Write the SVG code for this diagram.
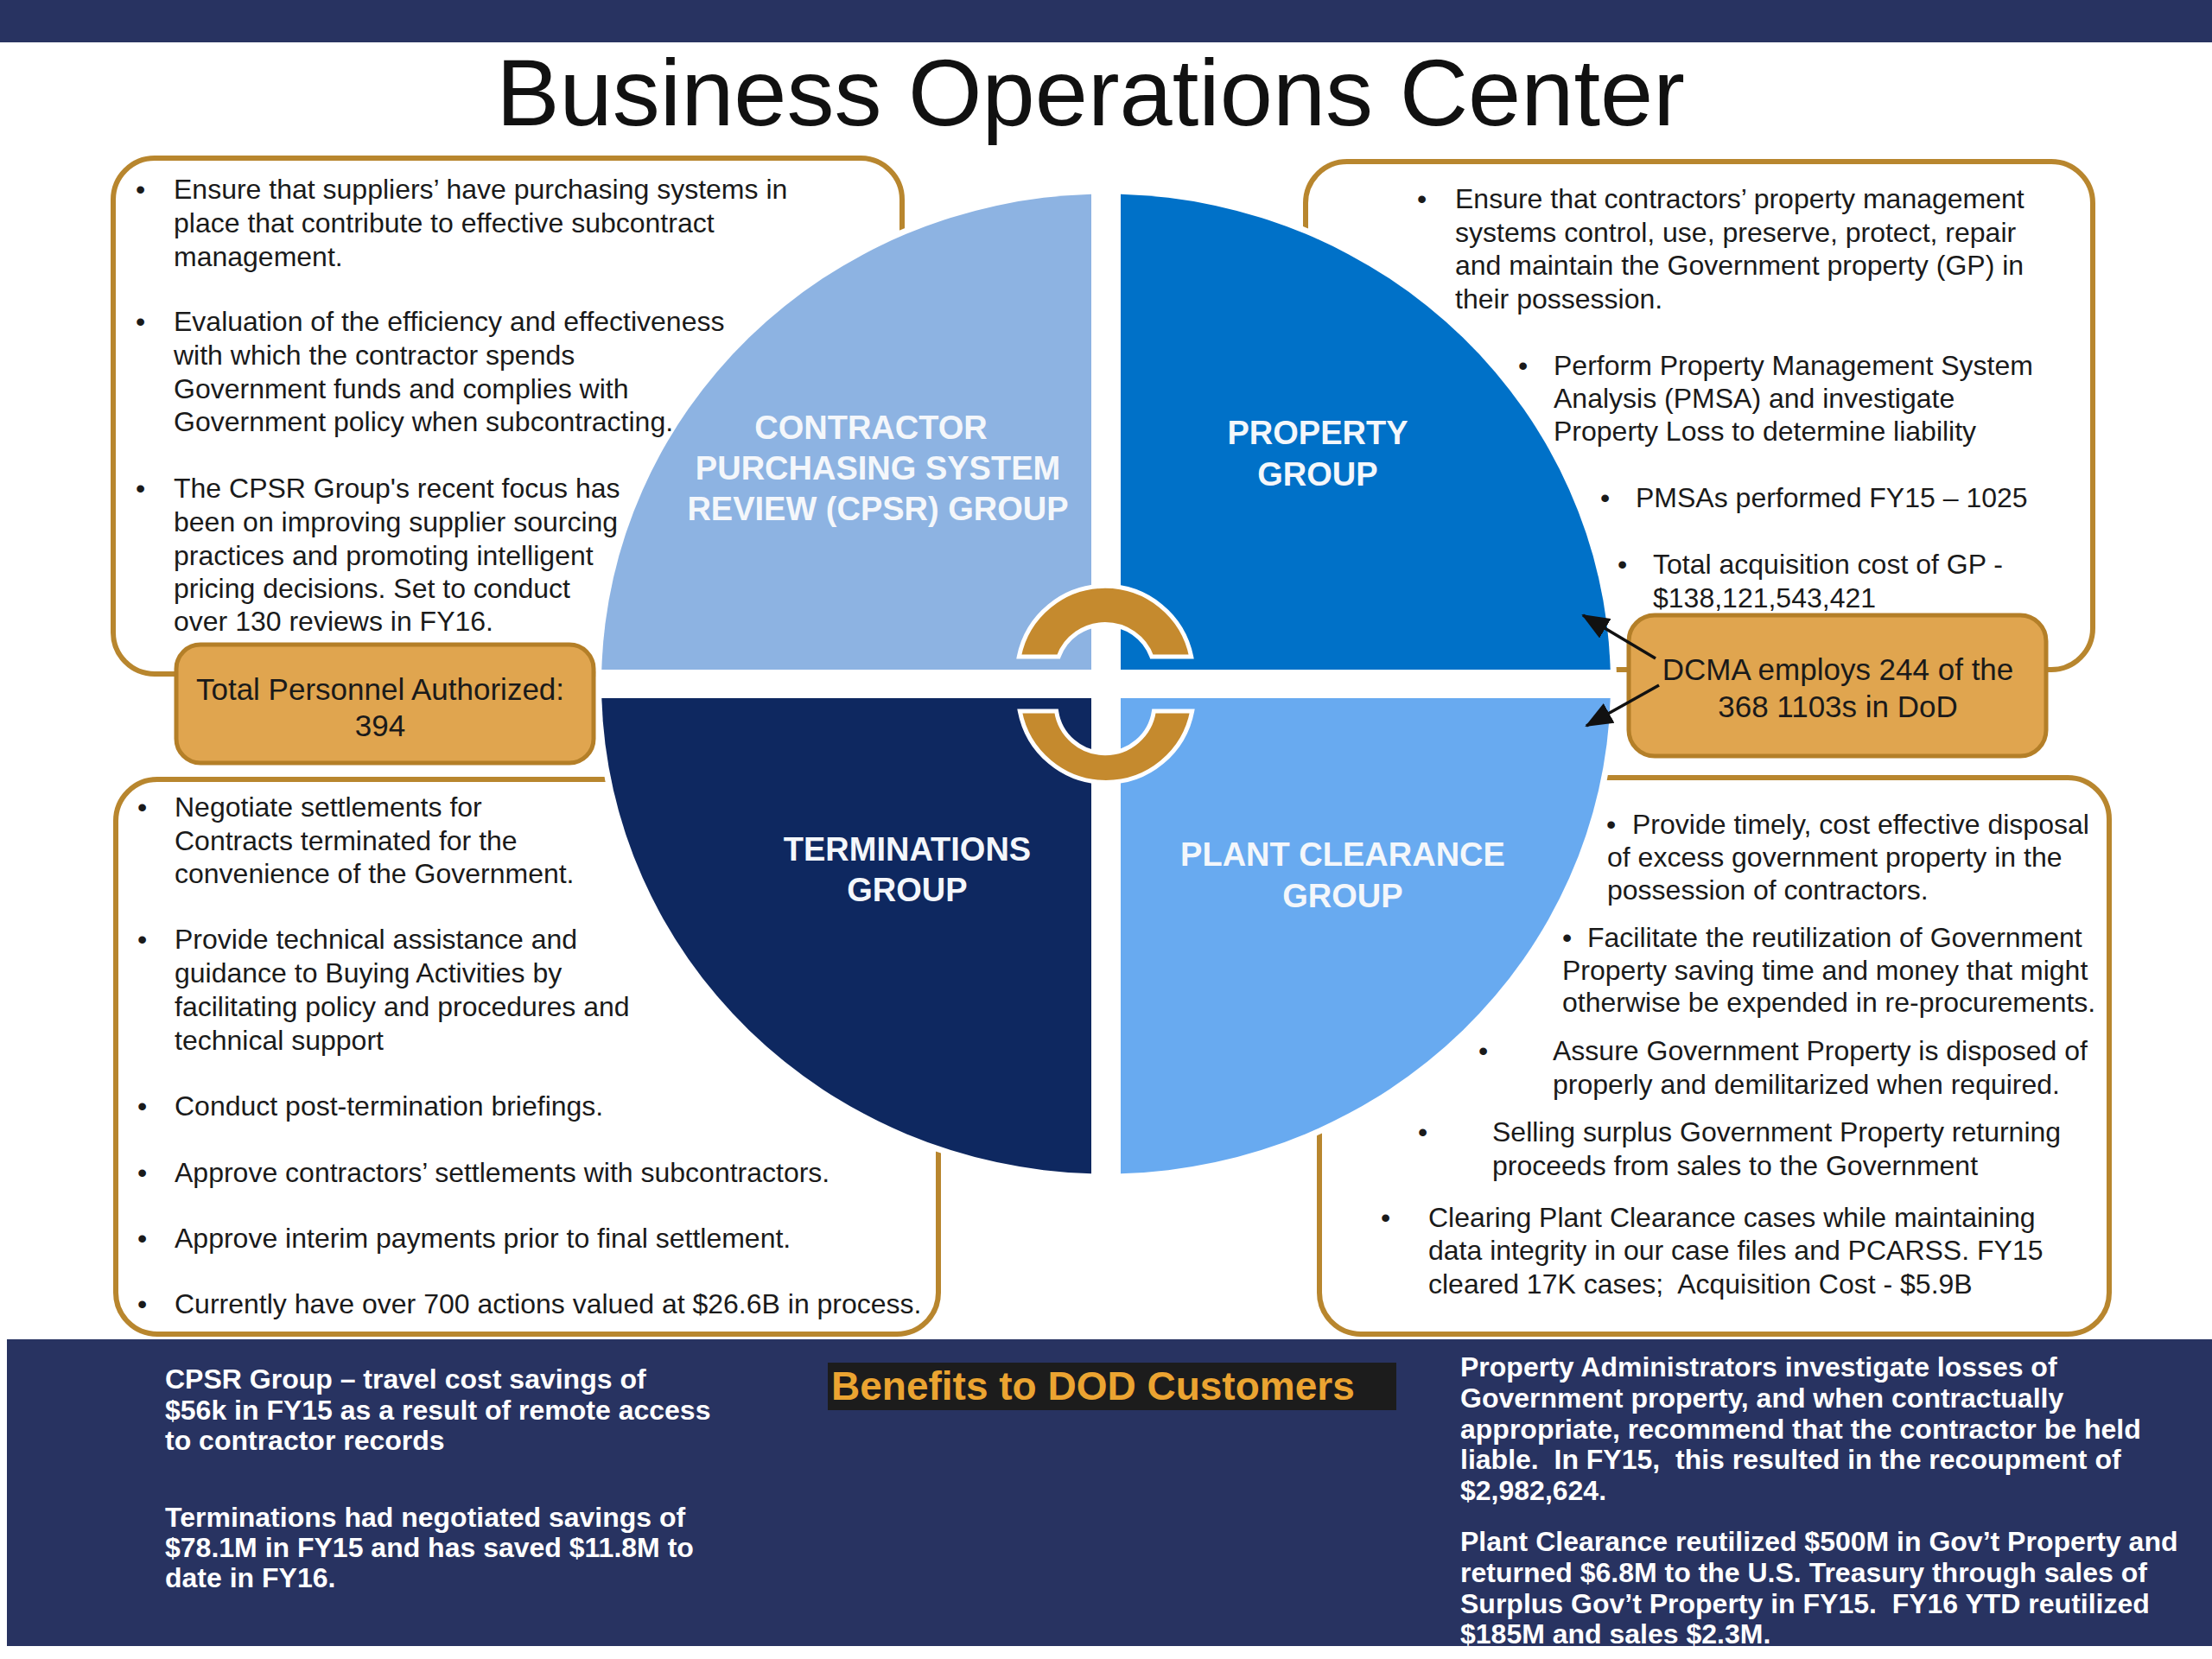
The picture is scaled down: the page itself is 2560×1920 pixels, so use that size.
<svg xmlns="http://www.w3.org/2000/svg" width="2560" height="1920" viewBox="0 0 2560 1920">
<defs>
<style>
.t{font-family:"Liberation Sans",Arial,sans-serif;font-size:32px;fill:#1a1a1a}
.box{fill:#ffffff;stroke:#B8862E;stroke-width:6}
.call{fill:#E0A54F;stroke:#B47F28;stroke-width:5}
.ct{font-family:"Liberation Sans",Arial,sans-serif;font-size:35px;fill:#1a1a1a;text-anchor:middle}
.ql{font-family:"Liberation Sans",Arial,sans-serif;font-size:38px;font-weight:bold;fill:#F4F7FB;text-anchor:middle}
.bt{font-family:"Liberation Sans",Arial,sans-serif;font-size:32px;font-weight:bold;fill:#ffffff}
.ring{fill:#C58A2E;stroke:#ffffff;stroke-width:5}
.arr{stroke:#111111;stroke-width:3.5;fill:none;marker-end:url(#ah)}
</style>
<marker id="ah" markerUnits="userSpaceOnUse" markerWidth="32" markerHeight="26" viewBox="0 0 32 26" refX="30" refY="13" orient="auto">
<path d="M0,0 L32,13 L0,26 Z" fill="#111111"/>
</marker>
</defs>
<rect x="0" y="0" width="2560" height="1920" fill="#ffffff"/>
<rect x="0" y="0" width="2560" height="49" fill="#283361"/>
<text id="title" x="1262" y="145" font-family="'Liberation Sans',Arial,sans-serif" font-size="110" fill="#111111" text-anchor="middle">Business Operations Center</text>

<g id="box-cpsr"><rect class="box" x="131" y="183" width="913" height="597" rx="48"/></g>
<g id="box-property"><rect class="box" x="1511" y="187" width="911" height="588" rx="48"/></g>
<g id="box-terminations"><rect class="box" x="134" y="902" width="952" height="642" rx="48"/></g>
<g id="box-plant"><rect class="box" x="1527" y="900" width="914" height="644" rx="48"/></g>

<g id="pie">
<ellipse cx="1280" cy="791.5" rx="591" ry="574" fill="#ffffff"/>
<path id="q-cpsr" d="M1263 775 L1263 224.7 A584 567 0 0 0 696.3 775 Z" fill="#8DB3E2"/>
<path id="q-property" d="M1297 775 L1297 224.7 A584 567 0 0 1 1863.7 775 Z" fill="#0071C8"/>
<path id="q-terminations" d="M1263 808 L696.3 808 A584 567 0 0 0 1263 1358.3 Z" fill="#0E2860"/>
<path id="q-plant" d="M1297 808 L1297 1358.3 A584 567 0 0 0 1863.7 808 Z" fill="#68AAF0"/>
<path class="ring" d="M1179.3 760 A101.7 101.7 0 0 1 1378.7 760 L1332.9 760 A57.5 57.5 0 0 0 1225.1 760 Z"/>
<path class="ring" d="M1180.3 823 A101.5 101.5 0 0 0 1379.7 823 L1335.4 823 A57 57 0 0 1 1222.6 823 Z"/>
<text class="ql"><tspan x="1008" y="508">CONTRACTOR</tspan><tspan x="1016" y="555">PURCHASING SYSTEM</tspan><tspan x="1016" y="602">REVIEW (CPSR) GROUP</tspan></text>
<text class="ql"><tspan x="1525" y="514">PROPERTY</tspan><tspan x="1525" y="562">GROUP</tspan></text>
<text class="ql"><tspan x="1050" y="996">TERMINATIONS</tspan><tspan x="1050" y="1043">GROUP</tspan></text>
<text class="ql"><tspan x="1554" y="1002">PLANT CLEARANCE</tspan><tspan x="1554" y="1050">GROUP</tspan></text>
</g>

<g id="text-cpsr">
<text class="t"><tspan x="157" y="230">•</tspan><tspan x="157" y="383">•</tspan><tspan x="157" y="576">•</tspan></text>
<text class="t"><tspan x="201" y="230">Ensure that suppliers’ have purchasing systems in</tspan><tspan x="201" y="269">place that contribute to effective subcontract</tspan><tspan x="201" y="308">management.</tspan><tspan x="201" y="383">Evaluation of the efficiency and effectiveness</tspan><tspan x="201" y="422">with which the contractor spends</tspan><tspan x="201" y="461">Government funds and complies with</tspan><tspan x="201" y="499">Government policy when subcontracting.</tspan><tspan x="201" y="576">The CPSR Group's recent focus has</tspan><tspan x="201" y="615">been on improving supplier sourcing</tspan><tspan x="201" y="654">practices and promoting intelligent</tspan><tspan x="201" y="692">pricing decisions. Set to conduct</tspan><tspan x="201" y="730">over 130 reviews in FY16.</tspan></text>
</g>

<g id="text-property">
<text class="t"><tspan x="1640" y="241">•</tspan><tspan x="1757" y="434">•</tspan><tspan x="1852" y="587">•</tspan><tspan x="1872" y="664">•</tspan></text>
<text class="t"><tspan x="1684" y="241">Ensure that contractors’ property management</tspan><tspan x="1684" y="280">systems control, use, preserve, protect, repair</tspan><tspan x="1684" y="318">and maintain the Government property (GP) in</tspan><tspan x="1684" y="357">their possession.</tspan><tspan x="1798" y="434">Perform Property Management System</tspan><tspan x="1798" y="472">Analysis (PMSA) and investigate</tspan><tspan x="1798" y="510">Property Loss to determine liability</tspan><tspan x="1893" y="587">PMSAs performed FY15 – 1025</tspan><tspan x="1913" y="664">Total acquisition cost of GP -</tspan><tspan x="1913" y="703">$138,121,543,421</tspan></text>
</g>

<g id="text-terminations">
<text class="t"><tspan x="159" y="945">•</tspan><tspan x="159" y="1098">•</tspan><tspan x="159" y="1291">•</tspan><tspan x="159" y="1368">•</tspan><tspan x="159" y="1444">•</tspan><tspan x="159" y="1520">•</tspan></text>
<text class="t"><tspan x="202" y="945">Negotiate settlements for</tspan><tspan x="202" y="984">Contracts terminated for the</tspan><tspan x="202" y="1022">convenience of the Government.</tspan><tspan x="202" y="1098">Provide technical assistance and</tspan><tspan x="202" y="1137">guidance to Buying Activities by</tspan><tspan x="202" y="1176">facilitating policy and procedures and</tspan><tspan x="202" y="1215">technical support</tspan><tspan x="202" y="1291">Conduct post-termination briefings.</tspan><tspan x="202" y="1368">Approve contractors’ settlements with subcontractors.</tspan><tspan x="202" y="1444">Approve interim payments prior to final settlement.</tspan><tspan x="202" y="1520">Currently have over 700 actions valued at $26.6B in process.</tspan></text>
</g>

<g id="text-plant">
<text class="t"><tspan x="1859" y="965">•</tspan><tspan x="1808" y="1096">•</tspan><tspan x="1711" y="1227">•</tspan><tspan x="1641" y="1321">•</tspan><tspan x="1598" y="1420">•</tspan></text>
<text class="t"><tspan x="1889" y="965">Provide timely, cost effective disposal</tspan><tspan x="1860" y="1003">of excess government property in the</tspan><tspan x="1860" y="1041">possession of contractors.</tspan><tspan x="1837" y="1096">Facilitate the reutilization of Government</tspan><tspan x="1808" y="1134">Property saving time and money that might</tspan><tspan x="1808" y="1171">otherwise be expended in re-procurements.</tspan><tspan x="1797" y="1227">Assure Government Property is disposed of</tspan><tspan x="1797" y="1266">properly and demilitarized when required.</tspan><tspan x="1727" y="1321">Selling surplus Government Property returning</tspan><tspan x="1727" y="1360">proceeds from sales to the Government</tspan><tspan x="1653" y="1420">Clearing Plant Clearance cases while maintaining</tspan><tspan x="1653" y="1458">data integrity in our case files and PCARSS. FY15</tspan><tspan x="1653" y="1497">cleared 17K cases;&#160; Acquisition Cost - $5.9B</tspan></text>
</g>

<g id="callout-personnel">
<rect class="call" x="204" y="746" width="483" height="137" rx="28"/>
<text class="ct" font-size="36"><tspan x="440" y="810">Total Personnel Authorized:</tspan><tspan x="440" y="852">394</tspan></text>
</g>
<g id="callout-dcma">
<rect class="call" x="1885" y="712" width="483" height="163" rx="30"/>
<text class="ct"><tspan x="2127" y="787">DCMA employs 244 of the</tspan><tspan x="2127" y="830">368 1103s in DoD</tspan></text>
</g>

<g id="connectors">
<line class="arr" x1="1916" y1="762" x2="1832" y2="712"/>
<line class="arr" x1="1920" y1="793" x2="1836" y2="840"/>
</g>

<g id="benefits">
<rect x="8" y="1550" width="2552" height="355" fill="#283361"/>
<rect x="958" y="1577" width="658" height="55" fill="#1C1C1C"/>
<text x="962" y="1620" font-family="'Liberation Sans',Arial,sans-serif" font-size="46" font-weight="bold" fill="#EBA431">Benefits to DOD Customers</text>
<text class="bt"><tspan x="191" y="1607">CPSR Group – travel cost savings of</tspan><tspan x="191" y="1643">$56k in FY15 as a result of remote access</tspan><tspan x="191" y="1678">to contractor records</tspan><tspan x="191" y="1767">Terminations had negotiated savings of</tspan><tspan x="191" y="1802">$78.1M in FY15 and has saved $11.8M to</tspan><tspan x="191" y="1837">date in FY16.</tspan></text>
<text class="bt"><tspan x="1690" y="1593">Property Administrators investigate losses of</tspan><tspan x="1690" y="1629">Government property, and when contractually</tspan><tspan x="1690" y="1665">appropriate, recommend that the contractor be held</tspan><tspan x="1690" y="1700">liable.&#160; In FY15,&#160; this resulted in the recoupment of</tspan><tspan x="1690" y="1736">$2,982,624.</tspan><tspan x="1690" y="1795">Plant Clearance reutilized $500M in Gov’t Property and</tspan><tspan x="1690" y="1831">returned $6.8M to the U.S. Treasury through sales of</tspan><tspan x="1690" y="1867">Surplus Gov’t Property in FY15.&#160; FY16 YTD reutilized</tspan><tspan x="1690" y="1902">$185M and sales $2.3M.</tspan></text>
</g>
</svg>
